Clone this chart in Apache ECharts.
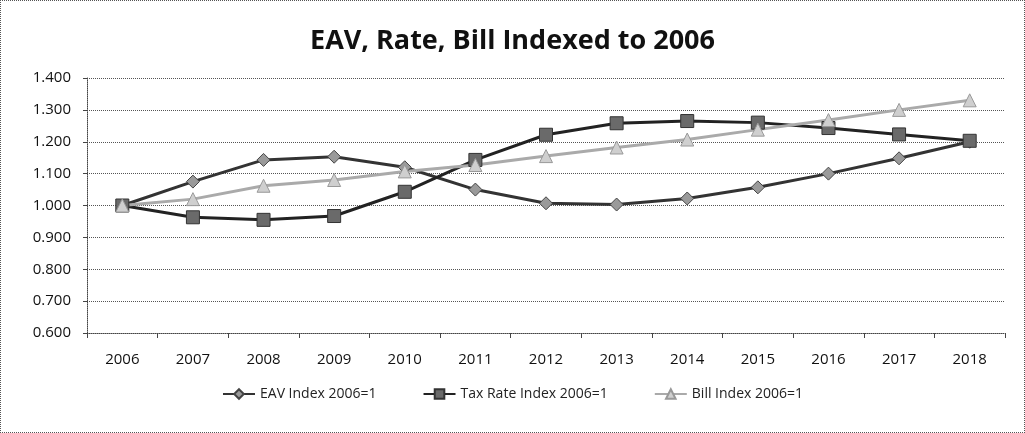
<!DOCTYPE html>
<html>
<head>
<meta charset="utf-8">
<script src="https://cdn.jsdelivr.net/npm/echarts@6/dist/echarts.min.js"></script>
<style>
  html, body { margin: 0; padding: 0; background: #fff; }
  #chart { width: 1025px; height: 433px; box-sizing: border-box; border: 1px dotted #555; }
</style>
</head>
<body>
<div id="chart"></div>
<script>
// values
const years = ['2006','2007','2008','2009','2010','2011','2012','2013','2014','2015','2016','2017','2018'];
const eavIndex  = [1.000, 1.075, 1.143, 1.153, 1.120, 1.050, 1.007, 1.003, 1.022, 1.057, 1.100, 1.148, 1.200];
const rateIndex = [1.000, 0.963, 0.955, 0.967, 1.043, 1.143, 1.222, 1.258, 1.265, 1.260, 1.243, 1.223, 1.203];
const billIndex = [1.000, 1.020, 1.062, 1.080, 1.107, 1.127, 1.155, 1.182, 1.207, 1.238, 1.268, 1.300, 1.330];

const font = '"Open Sans", "Noto Sans", sans-serif';
const chart = echarts.init(document.getElementById('chart'));

const option = {
  animation: false,
  title: {
    text: 'EAV, Rate, Bill Indexed to 2006',
    left: 'center',
    top: 22,
    textStyle: { fontFamily: font, fontWeight: 'bold', fontSize: 27, color: '#111' }
  },
  legend: {
    bottom: 26,
    left: 'center',
    itemGap: 46,
    itemWidth: 32,
    itemHeight: 12,
    textStyle: { fontFamily: font, fontSize: 14, color: '#222' },
    data: ['EAV Index 2006=1', 'Tax Rate Index 2006=1', 'Bill Index 2006=1']
  },
  grid: { left: 86, right: 19, top: 77, bottom: 99 },
  xAxis: {
    type: 'category',
    data: years,
    boundaryGap: true,
    axisLine: { show: true, lineStyle: { color: '#444', type: 'dotted' } },
    axisTick: { show: true, lineStyle: { color: '#444' } },
    axisLabel: { fontFamily: font, fontSize: 15, color: '#111', margin: 19 }
  },
  yAxis: {
    type: 'value',
    min: 0.6,
    max: 1.4,
    interval: 0.1,
    axisLine: { show: true, lineStyle: { color: '#444', type: 'dotted' } },
    axisTick: { show: true, length: 4, lineStyle: { color: '#444' } },
    axisLabel: { fontFamily: font, fontSize: 15, color: '#111', margin: 16,
      formatter: v => v.toFixed(3) },
    splitLine: { lineStyle: { color: '#555', type: 'dotted', width: 1 } }
  },
  series: [
    {
      name: 'EAV Index 2006=1',
      type: 'line',
      data: eavIndex,
      symbol: 'diamond',
      symbolSize: 13,
      lineStyle: { color: '#333', width: 3 },
      itemStyle: { color: '#9a9a9a', borderColor: '#444', borderWidth: 1 }
    },
    {
      name: 'Tax Rate Index 2006=1',
      type: 'line',
      data: rateIndex,
      symbol: 'rect',
      symbolSize: 13,
      lineStyle: { color: '#222', width: 3 },
      itemStyle: { color: '#6a6a6a', borderColor: '#333', borderWidth: 1 }
    },
    {
      name: 'Bill Index 2006=1',
      type: 'line',
      data: billIndex,
      symbol: 'triangle',
      symbolSize: 13,
      lineStyle: { color: '#aaaaaa', width: 3 },
      itemStyle: { color: '#cfcfcf', borderColor: '#999', borderWidth: 1 }
    }
  ]
};

chart.setOption(option);
</script>
</body>
</html>
